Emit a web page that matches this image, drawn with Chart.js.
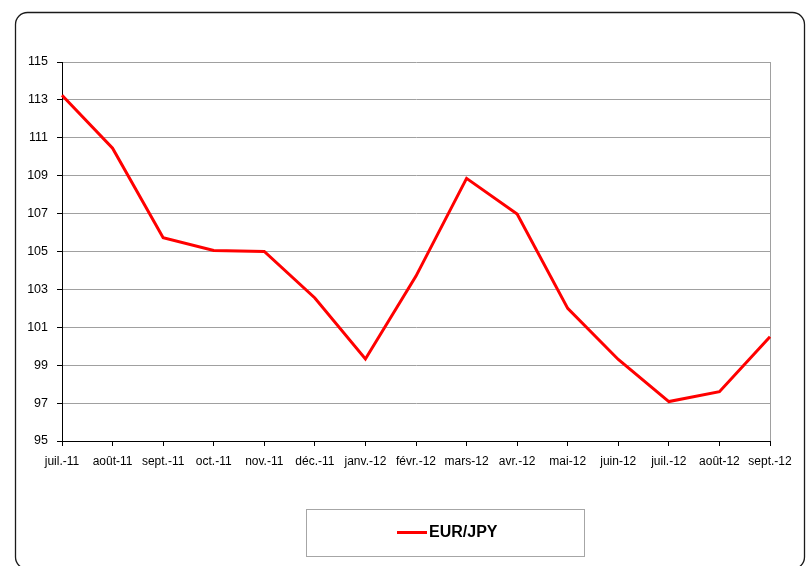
<!DOCTYPE html>
<html>
<head>
<meta charset="utf-8">
<script src="https://cdn.jsdelivr.net/npm/chart.js@4/dist/chart.umd.min.js"></script>
<style>
  html, body { margin: 0; padding: 0; background: #fff; }
  #wrap { width: 806px; height: 566px; position: relative; }
</style>
</head>
<body>
<div id="wrap"><canvas id="c" width="806" height="566"></canvas></div>
<script>
const categories = ["juil.-11","août-11","sept.-11","oct.-11","nov.-11","déc.-11","janv.-12","févr.-12","mars-12","avr.-12","mai-12","juin-12","juil.-12","août-12","sept.-12"];
const eurJpy = [113.25, 110.45, 105.73, 105.05, 105.0, 102.55, 99.33, 103.7, 108.86, 106.98, 102.0, 99.3, 97.08, 97.6, 100.5];
const seriesLabel = "EUR/JPY";
const yMin = 95, yMax = 115, yStep = 2;

const FONT = "'Liberation Sans', Arial, sans-serif";

const framePlugin = {
  id: 'frame',
  beforeDraw(chart) {
    const ctx = chart.ctx;
    ctx.save();
    ctx.fillStyle = '#fff';
    ctx.fillRect(0, 0, chart.width, chart.height);
    ctx.restore();
  },
  afterDraw(chart) {
    const ctx = chart.ctx;
    ctx.save();
    // outer rounded border
    ctx.strokeStyle = '#1a1a1a';
    ctx.lineWidth = 1.3;
    const x0 = 15.5, y0 = 12.5, x1 = 804.5, y1 = 569, r = 12;
    ctx.beginPath();
    ctx.moveTo(x0 + r, y0);
    ctx.lineTo(x1 - r, y0);
    ctx.arcTo(x1, y0, x1, y0 + r, r);
    ctx.lineTo(x1, y1 - r);
    ctx.arcTo(x1, y1, x1 - r, y1, r);
    ctx.lineTo(x0 + r, y1);
    ctx.arcTo(x0, y1, x0, y1 - r, r);
    ctx.lineTo(x0, y0 + r);
    ctx.arcTo(x0, y0, x0 + r, y0, r);
    ctx.stroke();

    // legend box
    const ds = chart.data.datasets[0];
    ctx.strokeStyle = '#a6a6a6';
    ctx.lineWidth = 1;
    ctx.strokeRect(306.5, 509.5, 278, 47);
    ctx.strokeStyle = ds.borderColor;
    ctx.lineWidth = 3;
    ctx.beginPath();
    ctx.moveTo(397, 532.5);
    ctx.lineTo(427, 532.5);
    ctx.stroke();
    ctx.fillStyle = '#000';
    ctx.font = "bold 16px " + FONT;
    ctx.textBaseline = 'middle';
    ctx.textAlign = 'left';
    ctx.fillText(ds.label, 429, 533);
    ctx.restore();
  }
};

new Chart(document.getElementById('c'), {
  type: 'line',
  data: {
    labels: categories,
    datasets: [{
      label: seriesLabel,
      data: eurJpy,
      borderColor: '#ff0000',
      backgroundColor: '#ff0000',
      borderWidth: 3,
      pointRadius: 0,
      tension: 0,
      fill: false,
      borderJoinStyle: 'miter'
    }]
  },
  options: {
    responsive: false,
    animation: false,
    devicePixelRatio: 1,
    layout: { padding: { left: 15, top: 62, right: 36, bottom: 0 } },
    plugins: { legend: { display: false }, tooltip: { enabled: false }, title: { display: false } },
    scales: {
      x: {
        offset: false,
        afterFit(s) { s.height = 125; },
        grid: {
          drawOnChartArea: true,
          color: (c) => (c.index === categories.length - 1 ? '#a0a0a0' : 'rgba(0,0,0,0)'),
          tickColor: '#000',
          tickLength: 5,
          lineWidth: 1
        },
        border: { color: '#000', width: 1 },
        ticks: {
          color: '#000',
          font: { family: FONT, size: 12 },
          padding: 8,
          maxRotation: 0,
          autoSkip: false
        }
      },
      y: {
        min: yMin,
        max: yMax,
        afterFit(s) { s.width = 47; },
        grid: {
          color: '#a0a0a0',
          tickColor: '#000',
          tickLength: 5,
          lineWidth: 1
        },
        border: { color: '#000', width: 1 },
        ticks: {
          stepSize: yStep,
          color: '#000',
          font: { family: FONT, size: 12.5 },
          padding: 9
        }
      }
    }
  },
  plugins: [framePlugin]
});
</script>
</body>
</html>
